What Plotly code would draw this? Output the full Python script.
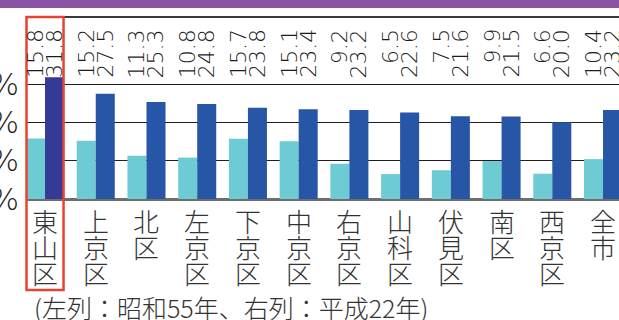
import plotly.graph_objects as go

# Share of elderly residents (65+) by ward, Kyoto city
districts = ["東山区", "上京区", "北区", "左京区", "下京区", "中京区",
             "右京区", "山科区", "伏見区", "南区", "西京区", "全市"]
rate_s55 = [15.8, 15.2, 11.3, 10.8, 15.7, 15.1, 9.2, 6.5, 7.5, 9.9, 6.6, 10.4]
rate_h22 = [31.8, 27.5, 25.3, 24.8, 23.8, 23.4, 23.2, 22.6, 21.6, 21.5, 20.0, 23.2]
y_ticks = [0, 10, 20, 30]
y_ticktext = ["0%", "10%", "20%", "30%"]
highlight = "東山区"
caption = "(左列：昭和55年、右列：平成22年)"

W, H = 619, 320
PL, PR, PT, PB = 26, 0, 17, 121
X_RANGE = [-0.375, 11.315]
Y_RANGE = [0, 47.5]
BAR_OFF = 0.1875  # half of one bar inside a group (bargap 0.25, two bars)

C_OLD = "#6dcbd4"
C_NEW = "#2656a5"
C_HI = "#353a96"
TXT = "#333333"
NUM_TXT = "#1c1c1c"
NUM_FONT = "DejaVu Sans"
CJK_FONT = "Noto Sans CJK JP"

def paper_y(px):
    return (H - PB - px) / (H - PB - PT)

def paper_x(px):
    return (px - PL) / (W - PL - PR)

def data_to_paper_x(v):
    return (v - X_RANGE[0]) / (X_RANGE[1] - X_RANGE[0])

xs = list(range(len(districts)))
new_colors = [C_HI if d == highlight else C_NEW for d in districts]

fig = go.Figure()
fig.add_trace(go.Bar(x=xs, y=rate_s55, marker=dict(color=C_OLD, line=dict(width=0)),
                     name="昭和55年"))
fig.add_trace(go.Bar(x=xs, y=rate_h22, marker=dict(color=new_colors, line=dict(width=0)),
                     name="平成22年"))

annotations = []
# value labels, rotated, above each bar
for i in xs:
    for val, off in ((rate_s55[i], -BAR_OFF), (rate_h22[i], BAR_OFF)):
        annotations.append(dict(
            x=i + off, xref="x", y=paper_y(27), yref="paper",
            text=f"{val:.1f}", textangle=-90, showarrow=False,
            xanchor="center", yanchor="top",
            font=dict(family=NUM_FONT, size=22, color=NUM_TXT, weight=200),
        ))
# ward names set vertically, one character per row
for i, name in zip(xs, districts):
    for j, ch in enumerate(name):
        annotations.append(dict(
            x=i, xref="x", y=paper_y(220 + 26 * j), yref="paper",
            text=ch, showarrow=False, xanchor="center", yanchor="middle",
            font=dict(family=CJK_FONT, size=26, color=TXT, weight=300),
        ))
annotations.append(dict(
    x=paper_x(32), xref="paper", y=paper_y(307), yref="paper",
    text=caption, showarrow=False, xanchor="left", yanchor="middle",
    font=dict(family=CJK_FONT, size=25, color=TXT, weight=300),
))

hi = districts.index(highlight)
shapes = [
    # header band
    dict(type="rect", xref="paper", yref="paper",
         x0=paper_x(0), x1=1, y0=paper_y(8), y1=paper_y(0),
         fillcolor="#8a53a3", line=dict(width=0), layer="above"),
    # top rule of the value row
    dict(type="line", xref="paper", yref="paper", x0=0, x1=1, y0=1, y1=1,
         line=dict(color="#3a3a3a", width=2), layer="above"),
    # frame around the highlighted ward
    dict(type="rect", xref="paper", yref="paper",
         x0=data_to_paper_x(hi - 0.365), x1=data_to_paper_x(hi + 0.365),
         y0=paper_y(290), y1=paper_y(17),
         line=dict(color="#e8432e", width=2.5), fillcolor="rgba(0,0,0,0)",
         layer="above"),
]

fig.update_layout(
    template="none",
    width=W, height=H,
    margin=dict(l=PL, r=PR, t=PT, b=PB, pad=0),
    paper_bgcolor="white", plot_bgcolor="white",
    barmode="group", bargap=0.25, bargroupgap=0,
    showlegend=False,
    xaxis=dict(range=X_RANGE, showticklabels=False, showgrid=False,
               zeroline=False, showline=False, ticks="", automargin=False,
               fixedrange=True),
    yaxis=dict(range=Y_RANGE, tickvals=y_ticks, ticktext=y_ticktext,
               showgrid=True, gridcolor="#1e1e1e", gridwidth=1.3,
               zeroline=True, zerolinecolor="#6e6e6e", zerolinewidth=2.5,
               showline=False, ticks="", ticklabelstandoff=6,
               tickfont=dict(family=NUM_FONT, size=30, color=NUM_TXT, weight=200),
               automargin=False, fixedrange=True),
    annotations=annotations,
    shapes=shapes,
)

fig.write_html("out.html")
